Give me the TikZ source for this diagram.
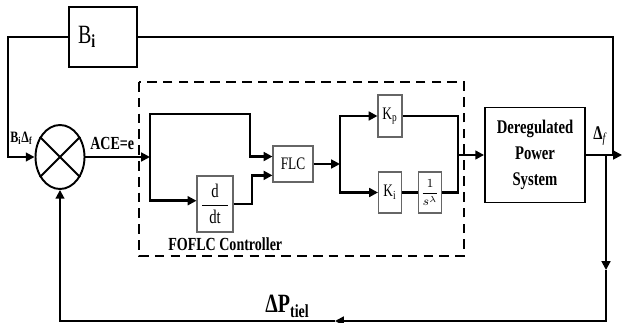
\documentclass[tikz,border=0pt]{standalone}
\usepackage{amsmath}
\usepackage{fontspec}
\setmainfont[FakeStretch=0.76]{Liberation Serif}
\usetikzlibrary{arrows.meta,shapes.geometric}

\tikzset{
  blk/.style={draw, line width=1.1pt, inner sep=0pt},
  sblk/.style={draw=black!60, line width=0.6pt, inner sep=0pt},
  sig/.style={line width=1.1pt},
  bsig/.style={line width=1.6pt},
  lbl/.style={inner sep=0pt, anchor=base west},
}

\begin{document}
\begin{tikzpicture}[x=0.02cm,y=-0.02cm,>={Triangle[length=5pt,width=5pt]}]
  \useasboundingbox (0,0) rectangle (624,323);
  % blocks
  \node[blk, minimum width=1.36cm, minimum height=1.2cm, text width=1.0cm, align=left,
        font=\fontsize{15}{15}\selectfont] (Bi) at (103,37) {B\textsubscript{\textbf{i}}};
  \node[draw, ellipse, line width=1.1pt, minimum width=0.98cm, minimum height=1.28cm,
        inner sep=0pt] (sum) at (60,157) {};
  \draw[line width=1.1pt] (sum.135) -- (sum.-45) (sum.45) -- (sum.-135);
  \node[sblk, minimum width=0.8cm, minimum height=0.72cm,
        font=\fontsize{10}{10}\selectfont] (flc) at (293,164) {FLC};
  \node[sblk, minimum width=0.72cm, minimum height=1.12cm,
        font=\fontsize{11}{11}\selectfont] (ddt) at (215,204)
        {$\dfrac{\text{d}}{\hspace{4pt}\text{dt}\hspace{4pt}}$};
  \node[sblk, minimum width=0.48cm, minimum height=0.84cm,
        font=\fontsize{10}{10}\selectfont] (kp) at (390,116) {K\textsubscript{p}};
  \node[sblk, minimum width=0.46cm, minimum height=0.82cm,
        font=\fontsize{10}{10}\selectfont] (ki) at (390,192.5) {K\textsubscript{i}};
  \node[sblk, minimum width=0.46cm, minimum height=0.82cm,
        font=\fontsize{7.5}{8}\selectfont] (frac) at (430,192.5) {$\dfrac{1}{s^{\lambda}}$};
  \node[blk, minimum width=2cm, minimum height=1.9cm, align=center,
        font=\bfseries\fontsize{11}{15}\selectfont] (plant) at (535,155)
        {Deregulated\\Power\\System};

  % dashed controller frame
  \draw[line width=1.6pt, dash pattern=on 5.5pt off 3.5pt] (139,82) rectangle (464,256);
  \node[lbl, font=\bfseries\fontsize{10.5}{12}\selectfont] (ctl) at (168,251) {FOFLC Controller};

  % corner points
  \coordinate (tl) at (8,37);
  \coordinate (inl) at (8,157);
  \coordinate (split) at (150,157);
  \coordinate (up2) at (250,114);
  \coordinate (kink) at (252,190);
  \coordinate (split2) at (340,164);
  \coordinate (join) at (458,155);
  \coordinate (tr) at (613,37);
  \coordinate (outEnd) at (622,155);
  \coordinate (fb) at (606,155);
  \coordinate (dnArr) at (606,270);
  \coordinate (br) at (606,321);
  \coordinate (lfArr) at (335,321);
  \coordinate (bl) at (60,321);

  % signals
  \draw[sig,->] (Bi.west) -- (tl) -- (inl) -- (sum.west);
  \draw[sig,->] (sum.east) -- (split);
  \draw[bsig,->] (split) |- (up2) -- (up2 |- flc.160) -- (flc.160);
  \draw[bsig,->] (split) |- (ddt.170);
  \draw[bsig,->] (ddt.east) -| (kink) |- (flc.209);
  \draw[sig,->] (flc.east) -- (split2);
  \draw[bsig,->] (split2) |- (kp.west);
  \draw[bsig,->] (split2) |- (ki.west);
  \draw[bsig] (ki.east) -- (frac.west);
  \draw[bsig] (kp.east) -| (join);
  \draw[bsig] (frac.east) -| (join);
  \draw[bsig,->] (join) -- (plant.west);
  \draw[sig,->] (plant.east) -- (outEnd);
  \draw[sig] (Bi.east) -- (tr) -- (tr |- plant.east);
  \draw[sig,->] (fb) -- (dnArr);
  \draw[sig,->] (dnArr) -- (br) -- (lfArr);
  \draw[sig,->] (lfArr) -- (bl) -- (sum.south);

  % labels
  \node[lbl, font=\bfseries\fontsize{9}{9}\selectfont] (bdf) at (10,143) {B\textsubscript{i}Δ\textsubscript{f}};
  \node[lbl, font=\bfseries\fontsize{10.5}{10.5}\selectfont] (ace) at (90,150) {ACE=e};
  \node[lbl, font=\fontsize{11}{11}\selectfont] (df) at (593,140) {\textbf{Δ}\textsubscript{\textit{f}}};
  \node[lbl, font=\bfseries\fontsize{15}{15}\selectfont] (dp) at (265,313) {ΔP\textsubscript{tiel}};
\end{tikzpicture}
\end{document}
